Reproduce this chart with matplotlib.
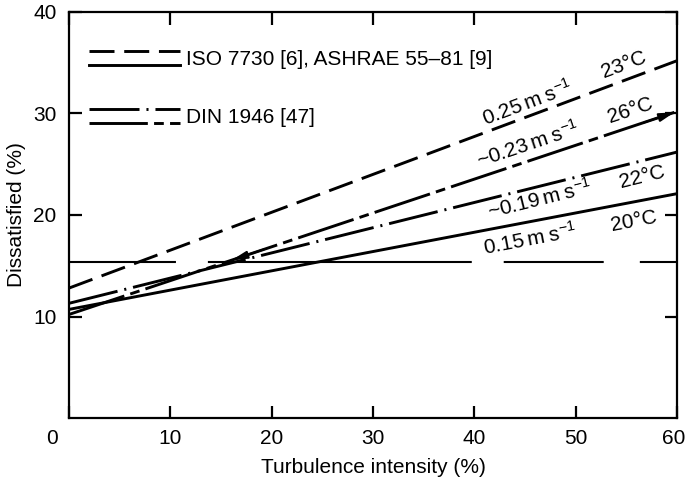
import matplotlib
matplotlib.use("Agg")
import math
import matplotlib.pyplot as plt
import matplotlib.transforms as mtransforms
from matplotlib.lines import Line2D
from matplotlib.legend_handler import HandlerBase

plt.rcParams['font.family'] = ['Liberation Sans', 'DejaVu Sans']
plt.rcParams['mathtext.fontset'] = 'custom'
plt.rcParams['mathtext.rm'] = 'Liberation Sans'
plt.rcParams['mathtext.it'] = 'Liberation Sans:italic'
plt.rcParams['mathtext.default'] = 'regular'
plt.rcParams['lines.scale_dashes'] = False

# ---- data ----
turbulence = [0, 60]
iso_23C = [12.8, 35.2]     # 0.25 m/s, 23 C  (ISO / ASHRAE)
din_26C = [10.2, 30.2]     # ~0.23 m/s, 26 C (DIN)
din_22C = [11.3, 26.2]     # ~0.19 m/s, 22 C (DIN)
iso_20C = [10.7, 22.1]     # 0.15 m/s, 20 C  (ISO / ASHRAE)
ref_level = 15.4
xticks = [0, 10, 20, 30, 40, 50, 60]
yticks = [10, 20, 30, 40]
legend_labels = ["ISO 7730 [6], ASHRAE 55\u201381 [9]", "DIN 1946 [47]"]

# ---- styles ----
LW = 2.1
DASHED = (0, (18, 7))
LONG_DOT = (0, (36, 5, 1.5, 5))
LONG_SHORT = (0, (42, 4.5, 7, 4.5))
REF_DASH = (0, (77, 23, 190, 23, 72, 26, 60))

fig = plt.figure(figsize=(6.87, 4.86), dpi=100)
ax = fig.add_axes([69 / 687, 68 / 486, 608 / 687, 406 / 486])
ax.set_xlim(0, 60)
ax.set_ylim(0, 40)

l23, = ax.plot(turbulence, iso_23C, color='k', lw=LW, linestyle=DASHED)
l26, = ax.plot(turbulence, din_26C, color='k', lw=LW, linestyle=LONG_SHORT)
l22, = ax.plot(turbulence, din_22C, color='k', lw=LW, linestyle=LONG_DOT)
l20, = ax.plot(turbulence, iso_20C, color='k', lw=LW, linestyle='-')
ax.plot(turbulence, [ref_level, ref_level], color='k', lw=1.5, linestyle=REF_DASH)


def line_y(ys, x):
    return ys[0] + (ys[1] - ys[0]) * (x - turbulence[0]) / (turbulence[1] - turbulence[0])


# arrowheads on the 26 C line
ax.annotate('', xy=(turbulence[1], din_26C[1]), xytext=(56.5, line_y(din_26C, 56.5)),
            arrowprops=dict(arrowstyle='-|>,head_length=0.9,head_width=0.25', color='k', lw=1.5))
ax.annotate('', xy=(15.8, line_y(din_26C, 15.8)), xytext=(19.5, line_y(din_26C, 19.5)),
            arrowprops=dict(arrowstyle='-|>,head_length=0.9,head_width=0.22', color='k', lw=1.5))

fig.canvas.draw()


def angle_of(ys):
    p0 = ax.transData.transform((turbulence[0], ys[0]))
    p1 = ax.transData.transform((turbulence[1], ys[1]))
    return math.degrees(math.atan2(p1[1] - p0[1], p1[0] - p0[0]))


FS = 15
TS = "\u2009"
labels = [
    ("0.25" + TS + "m" + TS + "s$^{-1}$", 45.2, 31.1, iso_23C),
    ("23\u00b0C", 54.8, 34.8, iso_23C),
    ("~0.23" + TS + "m" + TS + "s$^{-1}$", 45.3, 27.0, din_26C),
    ("26\u00b0C", 55.4, 30.3, din_26C),
    ("~0.19" + TS + "m" + TS + "s$^{-1}$", 46.5, 21.6, din_22C),
    ("22\u00b0C", 56.6, 23.7, din_22C),
    ("0.15" + TS + "m" + TS + "s$^{-1}$", 45.5, 17.6, iso_20C),
    ("20\u00b0C", 55.7, 19.4, iso_20C),
]
for txt, x, y, ys in labels:
    ax.text(x, y, txt, fontsize=FS, rotation=angle_of(ys), rotation_mode='anchor',
            ha='center', va='center')

# ---- axes styling ----
ax.set_xticks(xticks)
ax.set_yticks(yticks)
ax.set_xticklabels([str(v) for v in xticks])
ax.set_yticklabels([str(v) for v in yticks])
ax.tick_params(direction='in', length=9, width=1.6, top=True, right=True,
               labelsize=FS, colors='k')
ax.tick_params(axis='x', pad=8)
ax.tick_params(axis='y', pad=9)
for sp in ax.spines.values():
    sp.set_linewidth(1.6)

xlabels = ax.get_xticklabels()
xlabels[0].set_transform(xlabels[0].get_transform() +
                         mtransforms.ScaledTranslation(-17 / 100, 0, fig.dpi_scale_trans))
xlabels[-1].set_transform(xlabels[-1].get_transform() +
                          mtransforms.ScaledTranslation(-3 / 100, 0, fig.dpi_scale_trans))

ax.set_xlabel("Turbulence intensity (%)", fontsize=FS, labelpad=7)
ax.set_ylabel("Dissatisfied (%)", fontsize=FS, labelpad=5)


# ---- legend: two stacked line samples per entry ----
class HandlerPair(HandlerBase):
    def create_artists(self, legend, orig_handle, xdescent, ydescent, width, height,
                       fontsize, trans):
        top, bottom = orig_handle
        arts = []
        for h, frac in ((top, 0.85), (bottom, 0.15)):
            y = -ydescent + height * frac
            ln = Line2D([-xdescent, -xdescent + width], [y, y], color='k',
                        lw=h.get_linewidth())
            pattern = h._unscaled_dash_pattern[1]
            if pattern:
                ln.set_dashes(pattern)
            ln.set_transform(trans)
            arts.append(ln)
        return arts


leg = ax.legend([(l23, l20), (l22, l26)], legend_labels,
                handler_map={tuple: HandlerPair()}, loc='upper left',
                bbox_to_anchor=(0.033, 0.912), frameon=False, fontsize=FS,
                handlelength=4.35, handleheight=1.15, handletextpad=0.3,
                labelspacing=1.75, borderpad=0, borderaxespad=0)

fig.savefig("out.png", dpi=100)
